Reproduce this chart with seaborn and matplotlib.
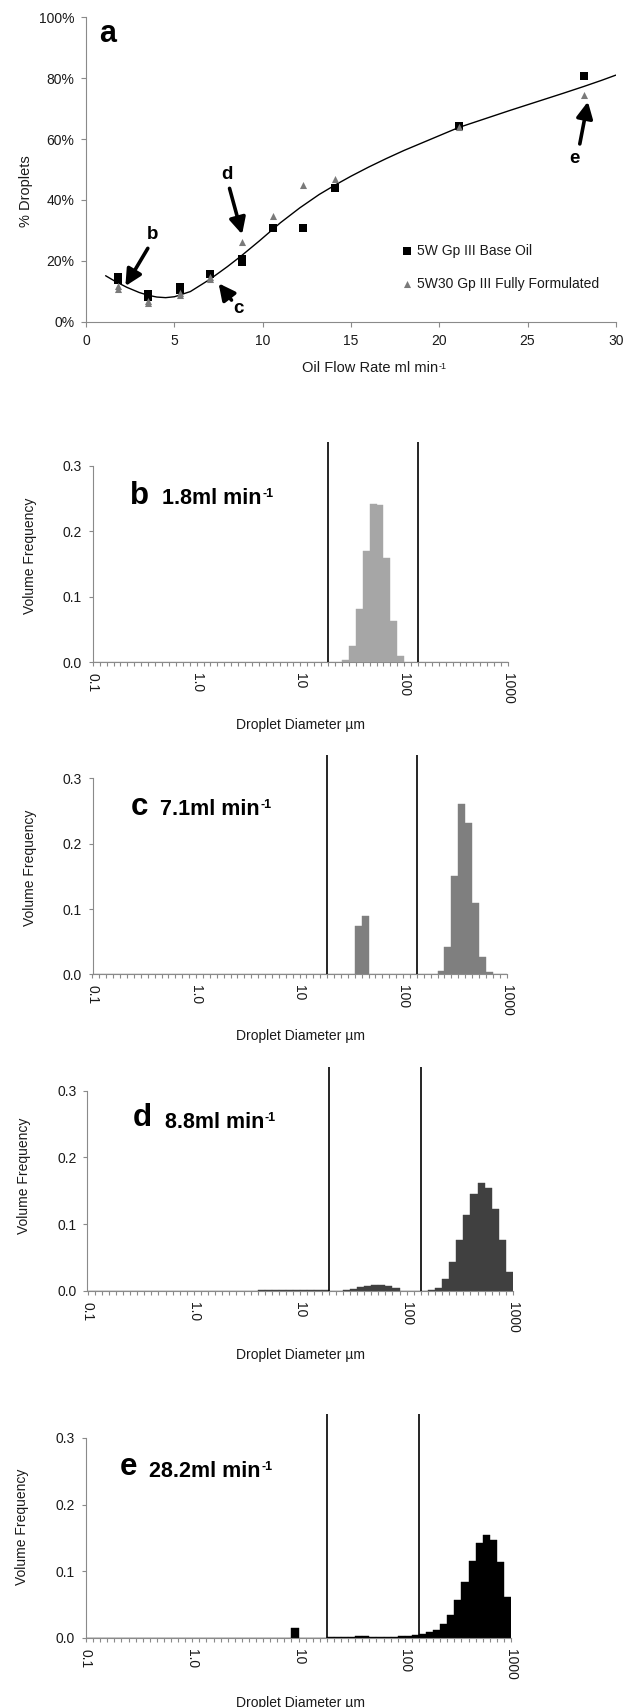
import numpy as np
import pandas as pd
import matplotlib
matplotlib.use("Agg")
import matplotlib.pyplot as plt
import seaborn as sns
from matplotlib.ticker import FixedLocator, NullFormatter, PercentFormatter

# ---------------- data : panel a ----------------
flow_base = [1.8, 1.8, 3.5, 3.5, 5.3, 5.3, 7.0, 8.8, 8.8, 10.6, 12.3, 14.1, 21.1, 28.2]
pct_base = [0.148, 0.136, 0.090, 0.082, 0.113, 0.104, 0.156, 0.207, 0.197, 0.309, 0.307, 0.439, 0.644, 0.808]
flow_full = [1.8, 1.8, 3.5, 3.5, 5.3, 5.3, 7.0, 7.0, 8.8, 10.6, 12.3, 14.1, 21.1, 28.2]
pct_full = [0.117, 0.108, 0.069, 0.062, 0.095, 0.087, 0.148, 0.141, 0.262, 0.348, 0.450, 0.469, 0.638, 0.745]
trend_x = [1.1, 1.6, 2.3, 3.0, 3.5, 4.0, 4.5, 5.0, 5.9, 7.0, 8.0, 8.8, 9.8, 11.0, 12.1, 13.2,
           14.1, 15.0, 16.0, 17.0, 18.0, 19.5, 21.1, 22.5, 24.0, 25.5, 27.0, 28.2, 29.2, 30.0]
trend_y = [0.151, 0.134, 0.113, 0.096, 0.087, 0.081, 0.079, 0.082, 0.099, 0.139, 0.181, 0.217,
           0.265, 0.325, 0.374, 0.418, 0.449, 0.478, 0.508, 0.536, 0.5625, 0.599, 0.638, 0.665,
           0.694, 0.722, 0.750, 0.773, 0.793, 0.810]
series_names = ["5W Gp III Base Oil", "5W30 Gp III Fully Formulated"]
x_ticks_a = [0, 5, 10, 15, 20, 25, 30]
y_ticks_a = [0, 0.2, 0.4, 0.6, 0.8, 1.0]

# ---------------- data : size distributions (bin index, 15 bins / decade from 0.1 um) ----------------
b_idx = [28, 29, 30, 31, 32, 33, 36, 37, 38, 39, 40, 41, 42, 43, 44]
b_freq = [0.0008, 0.001, 0.001, 0.001, 0.001, 0.001, 0.004, 0.025, 0.081, 0.170, 0.2425, 0.240, 0.159, 0.063, 0.010]
c_idx = [38, 39, 50, 51, 52, 53, 54, 55, 56, 57]
c_freq = [0.0746, 0.0895, 0.0046, 0.042, 0.151, 0.261, 0.232, 0.109, 0.027, 0.003]
d_idx = [24, 25, 26, 27, 28, 29, 30, 31, 32, 33, 36, 37, 38, 39, 40, 41, 42, 43,
         48, 49, 50, 51, 52, 53, 54, 55, 56, 57, 58, 59]
d_freq = [0.0008] * 10 + [0.0015, 0.0035, 0.006, 0.008, 0.0095, 0.0095, 0.0075, 0.004,
                          0.001, 0.0045, 0.018, 0.043, 0.077, 0.114, 0.146, 0.162, 0.154, 0.123, 0.077, 0.0285]
e_idx = [29] + list(range(34, 60))
e_freq = [0.014, 0.0005, 0.001, 0.0015, 0.0018, 0.002, 0.002, 0.0018, 0.0015, 0.0015, 0.0017, 0.002,
          0.0025, 0.004, 0.0055, 0.008, 0.012, 0.020, 0.0335, 0.056, 0.084, 0.115, 0.1415, 0.154,
          0.146, 0.113, 0.061]
flow_labels = ["1.8", "7.1", "8.8", "28.2"]
cut_sizes = [18.5, 136.0]
size_ticks = [0.1, 1, 10, 100, 1000]
size_tick_labels = ["0.1", "1.0", "10", "100", "1000"]
freq_ticks = [0.0, 0.1, 0.2, 0.3]
bins_per_decade = 15

# ---------------- style ----------------
sns.set_style("ticks")
plt.rcParams["font.family"] = ["Liberation Sans", "DejaVu Sans"]
TXT = "#1a1a1a"
SPINE = "#8a8a8a"
plt.rcParams.update({
    "text.color": TXT, "axes.labelcolor": TXT, "xtick.color": SPINE, "ytick.color": SPINE,
    "xtick.labelcolor": TXT, "ytick.labelcolor": TXT, "axes.edgecolor": SPINE,
    "axes.linewidth": 0.8, "xtick.major.width": 0.8, "ytick.major.width": 0.8,
    "xtick.minor.width": 0.8,
})

W, H = 632, 1707
fig = plt.figure(figsize=(W / 100, H / 100), dpi=100)


def rect(left, right, top, bottom):
    return [left / W, 1 - bottom / H, (right - left) / W, (bottom - top) / H]


def fx(px):
    return px / W


def fy(py):
    return 1 - py / H


# ---------------- panel a ----------------
ax = fig.add_axes(rect(86.2, 615.8, 17.3, 321.7))
sns.lineplot(x=trend_x, y=trend_y, ax=ax, color="black", lw=1.0, legend=False)
sns.scatterplot(x=flow_base, y=pct_base, ax=ax, marker="s", color="black", s=26,
                linewidth=0, label=series_names[0], zorder=3)
sns.scatterplot(x=flow_full, y=pct_full, ax=ax, marker="^", color="#7a7a7a", s=26,
                linewidth=0, label=series_names[1], zorder=3)
ax.set_xlim(0, 30)
ax.set_ylim(0, 1.0)
ax.set_xticks(x_ticks_a)
ax.set_yticks(y_ticks_a)
ax.yaxis.set_major_formatter(PercentFormatter(1.0, decimals=0))
ax.tick_params(axis="both", labelsize=10, length=3.5, pad=5)
sns.despine(ax=ax)
ax.legend(loc="center left", bbox_to_anchor=(0.596, 0.1787), frameon=False, fontsize=10,
          handlelength=0.8, handletextpad=0.3, labelspacing=1.35, borderpad=0, borderaxespad=0)
ax.text(0.72, 0.92, "a", fontsize=22, fontweight="bold", ha="left", va="baseline", color="black")

arrow_kw = dict(arrowstyle="-|>,head_length=0.7,head_width=0.35", color="black", lw=2.6,
                shrinkA=0, shrinkB=0, mutation_scale=14)
for letter, lx, ly, tail, tip in [
    ("b", 3.78, 0.285, (3.49, 0.241), (2.22, 0.117)),
    ("c", 8.65, 0.044, (8.23, 0.071), (7.50, 0.126)),
    ("d", 7.96, 0.482, (8.12, 0.438), (8.83, 0.287)),
    ("e", 27.68, 0.537, (27.96, 0.584), (28.42, 0.723)),
]:
    ax.annotate("", xy=tip, xytext=tail, arrowprops=arrow_kw, zorder=4)
    ax.text(lx, ly, letter, fontsize=13.5, fontweight="bold", ha="center", va="center", color="black")

ax.set_xlabel("Oil Flow Rate ml min", fontsize=10.5)
ax.xaxis.set_label_coords(fx(370), fy(368), transform=fig.transFigure)
ax.xaxis.label.set_va("center")
ax.annotate("-1", xy=(1, 1), xycoords=ax.xaxis.label, xytext=(0.3, -0.5), textcoords="offset points",
            fontsize=6.5, ha="left", va="top", color=TXT)
ax.set_ylabel("% Droplets", fontsize=10.5)
ax.yaxis.set_label_coords(fx(26.3), fy(190.8), transform=fig.transFigure)
ax.yaxis.label.set_va("center")

# ---------------- histogram panels ----------------
edges_log = [float(v) for v in np.linspace(-1, 3, 4 * bins_per_decade + 1)]
panels = [
    ("b", b_idx, b_freq, "#a6a6a6", (92.8, 508.0, 442.3, 662.3), (129.5, 504), (162.5, 504), (30.4, 556), (300, 725)),
    ("c", c_idx, c_freq, "#7f7f7f", (92.5, 506.5, 755.0, 974.3), (131.0, 815), (160, 815), (30.4, 868), (300, 1036)),
    ("d", d_idx, d_freq, "#404040", (87.5, 513.0, 1066.7, 1291.0), (133.0, 1126), (165, 1128), (24.3, 1176), (301, 1355)),
    ("e", e_idx, e_freq, "#000000", (86.0, 511.0, 1414.0, 1637.7), (120.0, 1475), (149, 1476.7), (22.3, 1527), (300, 1703)),
]
for (letter, idx, freq, col, r, lpos, spos, ylpos, xlpos), rate in zip(panels, flow_labels):
    ax = fig.add_axes(rect(*r))
    centers = [10 ** (-1 + (k + 0.5) / bins_per_decade) for k in idx]
    df = pd.DataFrame({"size": centers, "freq": freq})
    sns.histplot(data=df, x="size", weights="freq", bins=edges_log, log_scale=True, ax=ax,
                 color=col, alpha=1, edgecolor=col, linewidth=0.3, element="bars", fill=True)
    ax.set_xlim(0.1, 1000)
    ax.set_ylim(0, 0.336)
    for c in cut_sizes:
        ax.axvline(c, ymin=0, ymax=1, color="black", lw=1.2, zorder=5)
    sns.despine(ax=ax)
    ax.spines["left"].set_bounds(0, 0.3)
    ax.set_yticks(freq_ticks)
    ax.set_yticklabels([f"{v:.1f}" for v in freq_ticks])
    ax.xaxis.set_major_locator(FixedLocator(size_ticks))
    ax.set_xticklabels(size_tick_labels, rotation=-90)
    ax.xaxis.set_minor_locator(FixedLocator([10 ** v for v in edges_log]))
    ax.xaxis.set_minor_formatter(NullFormatter())
    ax.tick_params(axis="both", which="both", labelsize=10, length=3, pad=5)
    ax.set_xlabel("Droplet Diameter \u00b5m", fontsize=10)
    ax.xaxis.set_label_coords(fx(xlpos[0]), fy(xlpos[1]), transform=fig.transFigure)
    ax.xaxis.label.set_va("center")
    ax.set_ylabel("Volume Frequency", fontsize=10)
    ax.yaxis.set_label_coords(fx(ylpos[0]), fy(ylpos[1]), transform=fig.transFigure)
    ax.yaxis.label.set_va("center")
    fig.text(fx(lpos[0]), fy(lpos[1]), letter, fontsize=22.5, fontweight="bold", ha="left",
             va="baseline", color="black")
    t = fig.text(fx(spos[0]), fy(spos[1]), f"{rate}ml min", fontsize=15.5, fontweight="bold",
                 ha="left", va="baseline", color="black")
    ax.annotate("-1", xy=(1, 1), xycoords=t, xytext=(0.4, -0.3), textcoords="offset points",
                fontsize=9, fontweight="bold", ha="left", va="top", color="black",
                annotation_clip=False)

fig.savefig("out.png", dpi=100)
